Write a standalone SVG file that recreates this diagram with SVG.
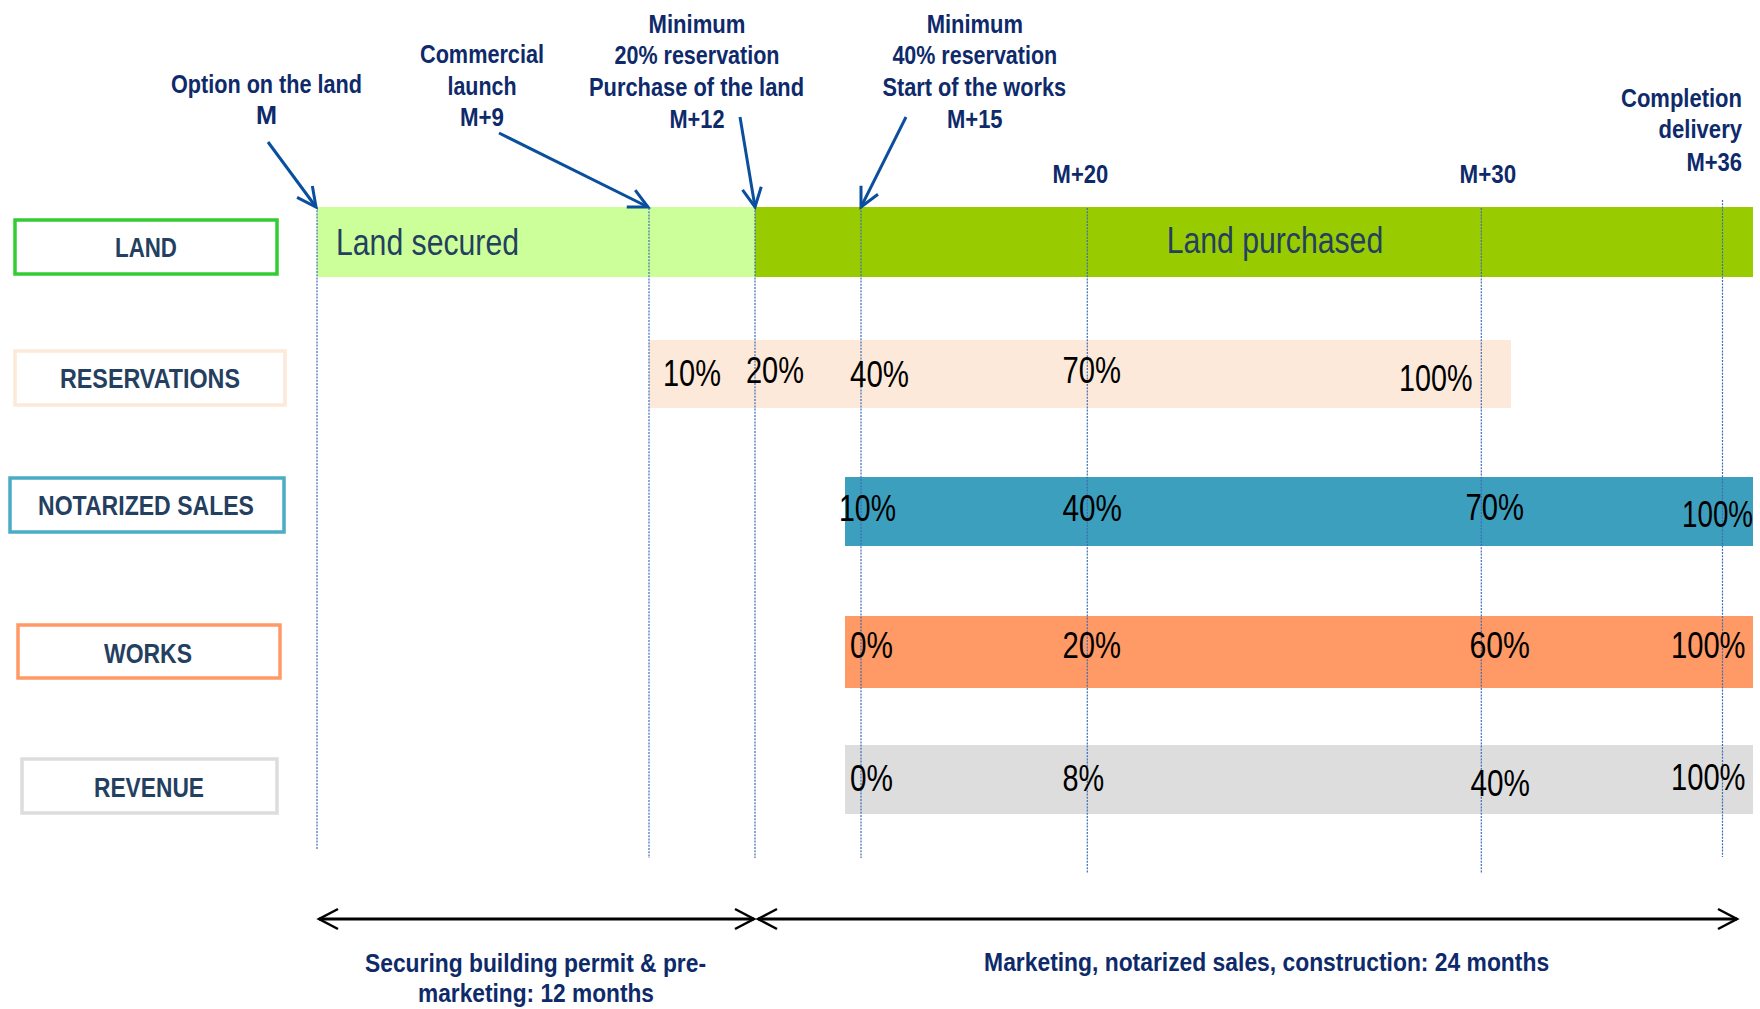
<svg xmlns="http://www.w3.org/2000/svg" width="1760" height="1009" viewBox="0 0 1760 1009">
  <style>
    .lbl { font-family: "Liberation Sans Narrow", "Liberation Sans", Arial, sans-serif; font-weight: bold; font-size: 25px; fill: #0e2a6a; text-anchor: middle; }
    .lbl-end { text-anchor: end; }
    .row { font-family: "Liberation Sans Narrow", "Liberation Sans", Arial, sans-serif; font-weight: bold; font-size: 27px; fill: #243f60; text-anchor: middle; }
    .rowbox { fill: #ffffff; stroke-width: 3.5; }
    .bartxt { font-family: "Liberation Sans Narrow", "Liberation Sans", Arial, sans-serif; font-size: 36px; fill: #243f60; }
    .pct { font-family: "Liberation Sans Narrow", "Liberation Sans", Arial, sans-serif; font-size: 36px; fill: #000000; }
    .guide { stroke: #3d6db5; stroke-width: 1.2; stroke-dasharray: 2 1.2; fill: none; }
    .pointer { stroke: #0a4f9e; stroke-width: 3; fill: none; marker-end: url(#headBlue); }
    .span { stroke: #000000; stroke-width: 3; fill: none; marker-start: url(#headBlack); marker-end: url(#headBlack); }
  </style>
  <defs>
    <marker id="headBlue" markerUnits="userSpaceOnUse" viewBox="-22 -12 26 24" refX="0" refY="0" markerWidth="26" markerHeight="24" orient="auto">
      <path d="M -19 -9.5 L 0 0 L -19 9.5" fill="none" stroke="#0a4f9e" stroke-width="3"/>
    </marker>
    <marker id="headBlack" markerUnits="userSpaceOnUse" viewBox="-22 -13 26 26" refX="0" refY="0" markerWidth="26" markerHeight="26" orient="auto-start-reverse">
      <path d="M -19 -10 L 0 0 L -19 10" fill="none" stroke="#000000" stroke-width="2.5"/>
    </marker>
  </defs>

  <rect width="1760" height="1009" fill="#ffffff"/>

  <!-- timeline bars -->
  <g id="bar-land">
    <rect x="317" y="207" width="438" height="70" fill="#ccff99"/>
    <rect x="755" y="207" width="998" height="70" fill="#99cc00"/>
  </g>
  <g id="bar-reservations">
    <rect x="649" y="340" width="862" height="68" fill="#fde9d9"/>
  </g>
  <g id="bar-notarized">
    <rect x="845" y="477" width="908" height="69" fill="#3c9fbe"/>
  </g>
  <g id="bar-works">
    <rect x="845" y="616" width="908" height="72" fill="#ff9966"/>
  </g>
  <g id="bar-revenue">
    <rect x="845" y="745" width="908" height="69" fill="#dddddd"/>
  </g>

  <!-- connectors: milestone guides, pointers, duration spans -->
  <g id="connectors">
    <line class="guide" x1="317" y1="207" x2="317" y2="850"/>
    <line class="guide" x1="649" y1="208" x2="649" y2="858"/>
    <line class="guide" x1="755" y1="207" x2="755" y2="858"/>
    <line class="guide" x1="861" y1="207" x2="861" y2="858"/>
    <line class="guide" x1="1087.3" y1="208" x2="1087.3" y2="873"/>
    <line class="guide" x1="1481.3" y1="208" x2="1481.3" y2="873"/>
    <line class="guide" x1="1722.5" y1="200" x2="1722.5" y2="857"/>

    <line class="pointer" x1="268" y1="142" x2="316" y2="207"/>
    <line class="pointer" x1="499" y1="133" x2="648" y2="207"/>
    <line class="pointer" x1="740" y1="117" x2="755" y2="207"/>
    <line class="pointer" x1="906" y1="117" x2="861" y2="207"/>

    <line class="span" x1="319" y1="919" x2="754" y2="919"/>
    <line class="span" x1="758" y1="919" x2="1737" y2="919"/>
  </g>

  <!-- row labels -->
  <g id="row-land">
    <rect class="rowbox" x="15" y="220" width="262" height="54" stroke="#33cc33"/>
    <text class="row" x="146" y="257" textLength="62" lengthAdjust="spacingAndGlyphs">LAND</text>
  </g>
  <g id="row-reservations">
    <rect class="rowbox" x="15" y="351" width="270" height="54" stroke="#fde9d9"/>
    <text class="row" x="150" y="388" textLength="180" lengthAdjust="spacingAndGlyphs">RESERVATIONS</text>
  </g>
  <g id="row-notarized">
    <rect class="rowbox" x="10" y="478" width="274" height="54" stroke="#4bacc6"/>
    <text class="row" x="146" y="515" textLength="216" lengthAdjust="spacingAndGlyphs">NOTARIZED SALES</text>
  </g>
  <g id="row-works">
    <rect class="rowbox" x="18" y="625" width="262" height="53" stroke="#ff9966"/>
    <text class="row" x="148" y="663" textLength="88" lengthAdjust="spacingAndGlyphs">WORKS</text>
  </g>
  <g id="row-revenue">
    <rect class="rowbox" x="22" y="759" width="255" height="54" stroke="#dddddd"/>
    <text class="row" x="149" y="797" textLength="110" lengthAdjust="spacingAndGlyphs">REVENUE</text>
  </g>

  <!-- bar captions -->
  <g id="land-captions">
    <text class="bartxt" x="336" y="255" textLength="183" lengthAdjust="spacingAndGlyphs">Land secured</text>
    <text class="bartxt" x="1166.7" y="253" textLength="216.5" lengthAdjust="spacingAndGlyphs">Land purchased</text>
  </g>
  <g id="reservations-values">
    <text class="pct" x="663" y="386" textLength="58" lengthAdjust="spacingAndGlyphs">10%</text>
    <text class="pct" x="746" y="383" textLength="58" lengthAdjust="spacingAndGlyphs">20%</text>
    <text class="pct" x="850" y="387" textLength="59" lengthAdjust="spacingAndGlyphs">40%</text>
    <text class="pct" x="1062.5" y="383" textLength="58.5" lengthAdjust="spacingAndGlyphs">70%</text>
    <text class="pct" x="1399" y="391" textLength="73.5" lengthAdjust="spacingAndGlyphs">100%</text>
  </g>
  <g id="notarized-values">
    <text class="pct" x="839" y="521" textLength="57" lengthAdjust="spacingAndGlyphs">10%</text>
    <text class="pct" x="1062.5" y="521" textLength="59.5" lengthAdjust="spacingAndGlyphs">40%</text>
    <text class="pct" x="1465.5" y="520" textLength="58.5" lengthAdjust="spacingAndGlyphs">70%</text>
    <text class="pct" x="1682" y="527" textLength="71" lengthAdjust="spacingAndGlyphs">100%</text>
  </g>
  <g id="works-values">
    <text class="pct" x="850" y="658" textLength="43" lengthAdjust="spacingAndGlyphs">0%</text>
    <text class="pct" x="1062.5" y="658" textLength="58.5" lengthAdjust="spacingAndGlyphs">20%</text>
    <text class="pct" x="1469.4" y="658" textLength="60.5" lengthAdjust="spacingAndGlyphs">60%</text>
    <text class="pct" x="1671" y="658" textLength="74.5" lengthAdjust="spacingAndGlyphs">100%</text>
  </g>
  <g id="revenue-values">
    <text class="pct" x="850" y="791" textLength="43" lengthAdjust="spacingAndGlyphs">0%</text>
    <text class="pct" x="1062.5" y="791" textLength="41.7" lengthAdjust="spacingAndGlyphs">8%</text>
    <text class="pct" x="1470.4" y="796" textLength="59.5" lengthAdjust="spacingAndGlyphs">40%</text>
    <text class="pct" x="1671" y="790" textLength="74.5" lengthAdjust="spacingAndGlyphs">100%</text>
  </g>

  <!-- milestones -->
  <g id="milestone-m">
    <text class="lbl" x="266.5" y="93" textLength="191" lengthAdjust="spacingAndGlyphs">Option on the land</text>
    <text class="lbl" x="266.5" y="124" textLength="21" lengthAdjust="spacingAndGlyphs">M</text>
  </g>
  <g id="milestone-m9">
    <text class="lbl" x="482" y="63" textLength="124" lengthAdjust="spacingAndGlyphs">Commercial</text>
    <text class="lbl" x="482" y="94.5" textLength="69" lengthAdjust="spacingAndGlyphs">launch</text>
    <text class="lbl" x="482" y="126" textLength="44" lengthAdjust="spacingAndGlyphs">M+9</text>
  </g>
  <g id="milestone-m12">
    <text class="lbl" x="697" y="32.7" textLength="97" lengthAdjust="spacingAndGlyphs">Minimum</text>
    <text class="lbl" x="697" y="64.3" textLength="165" lengthAdjust="spacingAndGlyphs">20% reservation</text>
    <text class="lbl" x="696.5" y="96" textLength="215" lengthAdjust="spacingAndGlyphs">Purchase of the land</text>
    <text class="lbl" x="697" y="128" textLength="55" lengthAdjust="spacingAndGlyphs">M+12</text>
  </g>
  <g id="milestone-m15">
    <text class="lbl" x="974.8" y="32.7" textLength="96.3" lengthAdjust="spacingAndGlyphs">Minimum</text>
    <text class="lbl" x="974.8" y="64.3" textLength="164.8" lengthAdjust="spacingAndGlyphs">40% reservation</text>
    <text class="lbl" x="974.3" y="96" textLength="183.6" lengthAdjust="spacingAndGlyphs">Start of the works</text>
    <text class="lbl" x="974.8" y="128" textLength="55.6" lengthAdjust="spacingAndGlyphs">M+15</text>
  </g>
  <g id="milestone-m20">
    <text class="lbl" x="1080.4" y="183" textLength="55.6" lengthAdjust="spacingAndGlyphs">M+20</text>
  </g>
  <g id="milestone-m30">
    <text class="lbl" x="1487.8" y="183" textLength="56.6" lengthAdjust="spacingAndGlyphs">M+30</text>
  </g>
  <g id="milestone-m36">
    <text class="lbl lbl-end" x="1742" y="107" textLength="121" lengthAdjust="spacingAndGlyphs">Completion</text>
    <text class="lbl lbl-end" x="1742" y="138" textLength="83.4" lengthAdjust="spacingAndGlyphs">delivery</text>
    <text class="lbl lbl-end" x="1742" y="170.7" textLength="55.6" lengthAdjust="spacingAndGlyphs">M+36</text>
  </g>

  <!-- phase durations -->
  <g id="phase-permit">
    <text class="lbl" x="535.5" y="972" textLength="341" lengthAdjust="spacingAndGlyphs">Securing building permit &amp; pre-</text>
    <text class="lbl" x="536" y="1002" textLength="236" lengthAdjust="spacingAndGlyphs">marketing: 12 months</text>
  </g>
  <g id="phase-construction">
    <text class="lbl" x="1266.6" y="971" textLength="565" lengthAdjust="spacingAndGlyphs">Marketing, notarized sales, construction: 24 months</text>
  </g>
</svg>
